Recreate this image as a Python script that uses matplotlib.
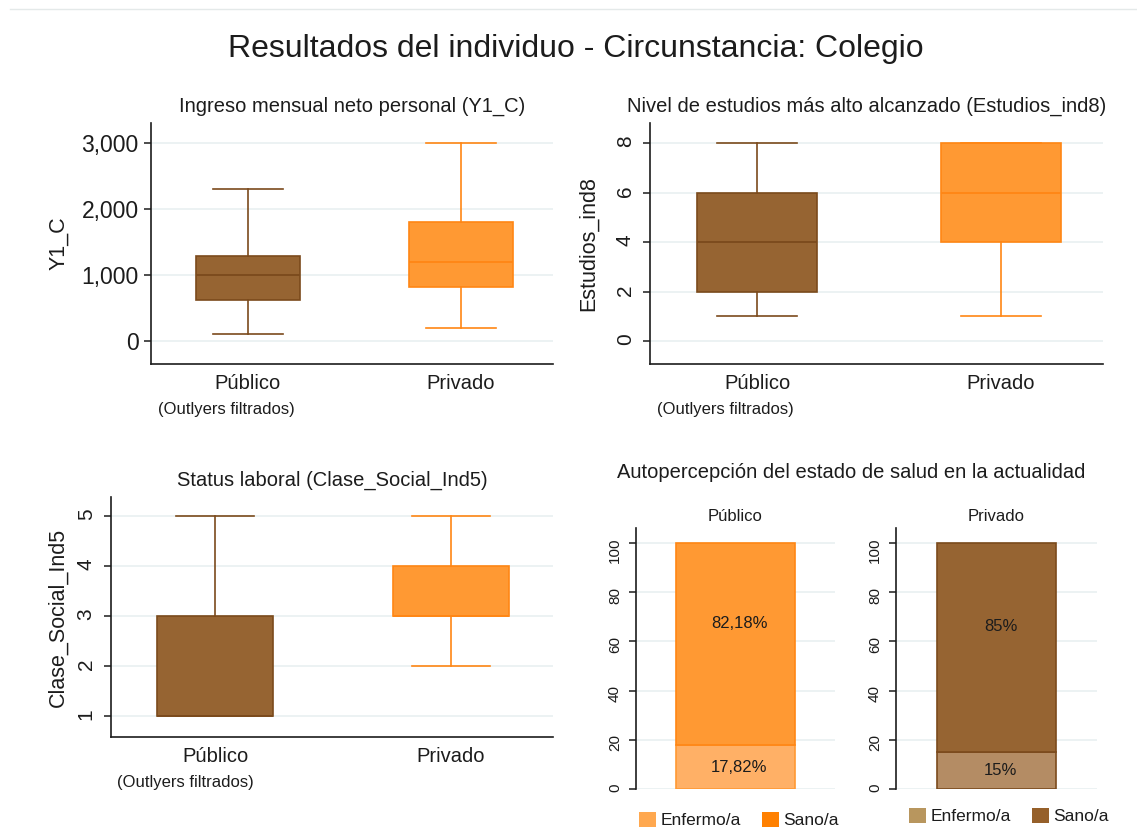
import matplotlib
matplotlib.use("Agg")
import matplotlib.pyplot as plt
from matplotlib.patches import Patch
from matplotlib.lines import Line2D

plt.rcParams['font.family'] = ['Liberation Sans', 'DejaVu Sans']

W, H = 1137, 830

groups = ['Público', 'Privado']
nota = '(Outlyers filtrados)'

# whislo, q1, med, q3, whishi
ingreso_publico = [100, 620, 1000, 1290, 2300]
ingreso_privado = [200, 820, 1190, 1800, 3000]
estudios_publico = [1, 2, 4, 6, 8]
estudios_privado = [1, 4, 6, 8, 8]
clase_publico = [1, 1, 1, 3, 5]
clase_privado = [2, 3, 3, 4, 5]

salud_labels = ['Enfermo/a', 'Sano/a']
salud_publico = [17.82, 82.18]
salud_privado = [15, 85]
salud_txt_publico = ['17,82%', '82,18%']
salud_txt_privado = ['15%', '85%']

brown_face, brown_edge = '#966432', '#7B4A1C'
orange_face, orange_edge = '#FF9933', '#FF8614'
ink = '#1c1c1c'
grid_col = '#EAF1F2'


def px(x0, y0, x1, y1):
    return [x0 / W, 1 - y1 / H, (x1 - x0) / W, (y1 - y0) / H]


def stats(vals, label):
    lo, q1, med, q3, hi = vals
    return dict(whislo=lo, q1=q1, med=med, q3=q3, whishi=hi, fliers=[], label=label)


def style(ax):
    for s in ['top', 'right']:
        ax.spines[s].set_visible(False)
    for s in ['left', 'bottom']:
        ax.spines[s].set_color(ink)
        ax.spines[s].set_linewidth(1.2)
    ax.yaxis.grid(True, color=grid_col, linewidth=1.3)
    ax.set_axisbelow(True)
    ax.tick_params(axis='y', length=5, width=1.1, color=ink, labelcolor=ink)


def box_panel(ax, pub, priv, title, ylabel, xlim, ylim, yticks, rot, dx, title_x=0.5):
    style(ax)
    cols = [(brown_face, brown_edge), (orange_face, orange_edge)]
    for i, (vals, (fc, ec)) in enumerate(zip([pub, priv], cols)):
        ax.bxp([stats(vals, groups[i])], positions=[i + 1], widths=0.49, capwidths=0.33,
               patch_artist=True, showfliers=False, manage_ticks=False,
               boxprops=dict(facecolor=fc, edgecolor=ec, linewidth=1.2),
               medianprops=dict(color=ec, linewidth=1.3),
               whiskerprops=dict(color=ec, linewidth=1.2),
               capprops=dict(color=ec, linewidth=1.2))
    ax.set_xlim(*xlim)
    ax.set_ylim(*ylim)
    ax.set_xticks([1, 2])
    ax.set_xticklabels(groups, fontsize=14.5, color=ink)
    ax.tick_params(axis='x', length=0, pad=7)
    ax.set_yticks(yticks)
    if rot:
        ax.tick_params(axis='y', labelrotation=90, labelsize=15, pad=6)
    else:
        ax.set_yticklabels([f'{v:,}' for v in yticks])
        ax.tick_params(axis='y', labelsize=16.5, pad=4)
    ax.set_title(title, fontsize=14.5, color=ink, pad=8, x=title_x)
    ax.set_ylabel(ylabel, fontsize=15.5, color=ink)
    ax.annotate(nota, xy=(1, 0), xycoords=('data', 'axes fraction'),
                xytext=(dx, -45), textcoords='offset pixels',
                ha='center', va='center', fontsize=12, color=ink)


fig = plt.figure(figsize=(W / 100, H / 100), dpi=100)
fig.add_artist(Line2D([0.009, 1.0], [0.989, 0.989], color='#E4E9E9', lw=1))
fig.text(575.5 / W, 1 - 57 / H, 'Resultados del individuo - Circunstancia: Colegio',
         ha='center', va='baseline', fontsize=23, color=ink)

ax1 = fig.add_axes(px(151, 123, 553, 364))
box_panel(ax1, ingreso_publico, ingreso_privado, 'Ingreso mensual neto personal (Y1_C)',
          'Y1_C', (0.545, 2.432), (-348, 3303), [0, 1000, 2000, 3000], False, -22)
ax1.yaxis.set_label_coords(-0.204, 0.5)

ax2 = fig.add_axes(px(650, 123, 1103, 364))
box_panel(ax2, estudios_publico, estudios_privado,
          'Nivel de estudios más alto alcanzado (Estudios_ind8)',
          'Estudios_ind8', (0.561, 2.418), (-0.93, 8.81), [0, 2, 4, 6, 8], True, -32,
          title_x=0.479)
ax2.yaxis.set_label_coords(-0.113, 0.5)

ax3 = fig.add_axes(px(111, 497, 553, 737))
box_panel(ax3, clase_publico, clase_privado, 'Status laboral (Clase_Social_Ind5)',
          'Clase_Social_Ind5', (0.559, 2.432), (0.58, 5.38), [1, 2, 3, 4, 5], True, -30)
ax3.yaxis.set_label_coords(-0.095, 0.5)

fig.text(851 / W, 1 - 478 / H, 'Autopercepción del estado de salud en la actualidad',
         ha='center', va='baseline', fontsize=14.5, color=ink)

bar_sets = [
    (px(636, 528, 835, 789), 'Público', salud_publico, salud_txt_publico,
     ['#FFB066', orange_face], [orange_face, orange_edge], ['#FFA84F', '#FF8000'], (0.518, -0.119)),
    (px(896, 528, 1097, 789), 'Privado', salud_privado, salud_txt_privado,
     ['#B48C64', brown_face], [brown_edge, brown_edge], ['#B8965E', '#96602A'], (0.562, -0.103)),
]
for pos, name, vals, txts, faces, edges, leg_cols, leg_xy in bar_sets:
    ax = fig.add_axes(pos)
    style(ax)
    ax.spines['bottom'].set_visible(False)
    bottom = 0
    for v, t, fc, ec, k in zip(vals, txts, faces, edges, range(2)):
        ax.bar(0, v, width=0.593, bottom=bottom, color=fc, edgecolor=ec, linewidth=1.2)
        ty = bottom + v / 2 if k == 0 else bottom + 0.6 * v
        ax.text(0.02, ty, t, ha='center', va='center', fontsize=12, color=ink)
        bottom += v
    ax.set_xlim(-0.5, 0.5)
    ax.set_ylim(0, 106.1)
    ax.set_xticks([])
    ax.set_yticks([0, 20, 40, 60, 80, 100])
    ax.tick_params(axis='y', labelrotation=90, labelsize=11, pad=5)
    ax.set_title(name, fontsize=12, color=ink, pad=5)
    handles = [Patch(facecolor=c, edgecolor='none') for c in leg_cols]
    ax.legend(handles, salud_labels, loc='center', bbox_to_anchor=leg_xy, ncol=2,
              frameon=False, fontsize=12.5, handlelength=1.0, handleheight=1.0,
              handletextpad=0.25, columnspacing=1.2, labelcolor=ink, borderaxespad=0)

fig.savefig('out.png', dpi=100, facecolor='white')
